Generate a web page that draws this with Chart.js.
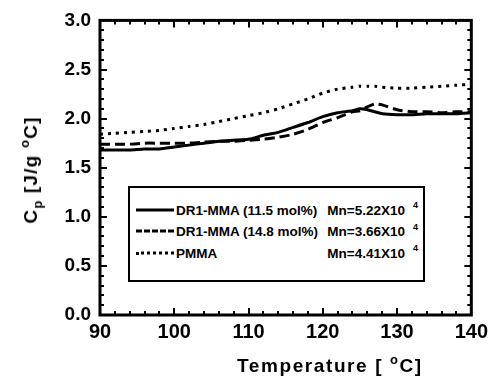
<!doctype html>
<html lang="en">
<head>
<meta charset="UTF-8" />
<title>Heat capacity of DR1-MMA copolymers and PMMA</title>
<script src="https://cdn.jsdelivr.net/npm/chart.js@4"></script>
<style>
  html, body { margin: 0; padding: 0; background: #fff; }
  body {
    width: 493px; height: 381px; position: relative; overflow: hidden;
    font-family: "Liberation Sans", Arial, sans-serif; color: #000;
  }
  #cpChart { position: absolute; left: 0; top: 0; }
  .axis-title { position: absolute; font-weight: bold; font-size: 19px; white-space: nowrap; line-height: 1; }
  .axis-title sup { font-size: 13px; vertical-align: 8px; }
  .axis-title sub { font-size: 13px; vertical-align: -5px; }
  #xTitle { left: 237px; top: 353px; letter-spacing: 1.6px; }
  #yTitle { left: 31px; top: 170px; letter-spacing: 1.2px; transform: translate(-50%, -50%) rotate(-90deg); }
  #legend {
    position: absolute; left: 128px; top: 186px; width: 293px; height: 81px;
    border: 2px solid #000; background: #fff; padding-top: 11px; box-sizing: content-box;
  }
  .row { position: relative; height: 21.5px; font-size: 13.5px; font-weight: bold; }
  .row span { position: absolute; top: 50%; transform: translateY(-50%); white-space: nowrap; }
  .row .sample { left: 6px; width: 38px; height: 0; border-top-width: 3px; border-top-color: #000; }
  .row .name { left: 46px; }
  .row .mn { right: 18px; }
  .row .exp { right: 5px; font-size: 9px; top: 30%; }
</style>
</head>
<body>
<canvas id="cpChart" width="493" height="381"></canvas>
<div id="yTitle" class="axis-title">C<sub>p</sub> [J/g <sup>o</sup>C]</div>
<div id="xTitle" class="axis-title">Temperature [ <sup>o</sup>C]</div>
<div id="legend"></div>

<script>
// temperature grid (°C) shared by all three curves
const temps = [90, 92, 94, 96, 98, 100, 102, 104, 106, 108, 110, 112, 114, 116, 118,
  120, 122, 124, 125, 126, 127, 128, 130, 132, 134, 136, 138, 140];

// Cp [J/g °C]
const cpDr115 = [1.68, 1.68, 1.68, 1.69, 1.69, 1.71, 1.73, 1.75, 1.77, 1.78, 1.79, 1.83, 1.86, 1.91, 1.96,
  2.02, 2.06, 2.08, 2.10, 2.09, 2.07, 2.05, 2.04, 2.04, 2.05, 2.05, 2.05, 2.06];
const cpDr148 = [1.74, 1.74, 1.74, 1.75, 1.75, 1.75, 1.75, 1.76, 1.77, 1.77, 1.78, 1.79, 1.81, 1.84, 1.89,
  1.96, 2.01, 2.07, 2.08, 2.12, 2.15, 2.14, 2.09, 2.07, 2.07, 2.06, 2.07, 2.07];
const cpPmma = [1.84, 1.85, 1.86, 1.87, 1.88, 1.90, 1.92, 1.94, 1.97, 2.00, 2.03, 2.06, 2.10, 2.15, 2.20,
  2.26, 2.30, 2.32, 2.33, 2.33, 2.33, 2.32, 2.31, 2.31, 2.32, 2.33, 2.34, 2.35];

const seriesNames = ['DR1-MMA (11.5 mol%)', 'DR1-MMA (14.8 mol%)', 'PMMA'];
const seriesMn = ['Mn=5.22X10', 'Mn=3.66X10', 'Mn=4.41X10'];
const mnExponent = '4';

// axis ticks
const xMajorTicks = [90, 100, 110, 120, 130, 140];
const yMajorTicks = [0, 0.5, 1.0, 1.5, 2.0, 2.5, 3.0];
const X_MINOR = 2;
const Y_MINOR = 0.1;

const lineStyles = [
  { dash: [], css: 'solid' },
  { dash: [10, 5], css: 'dashed' },
  { dash: [3, 5], css: 'dotted' }
];

const toPoints = (vals) => vals.map((v, i) => ({ x: temps[i], y: v }));

function tick(ctx, x0, y0, x1, y1) {
  ctx.beginPath();
  ctx.moveTo(x0, y0);
  ctx.lineTo(x1, y1);
  ctx.stroke();
}

// heavy frame plus inward ticks on all four sides
const frameTicks = {
  id: 'frameTicks',
  afterDraw(chart) {
    const { ctx, chartArea: a, scales: { x, y } } = chart;
    ctx.save();
    ctx.setLineDash([]);
    ctx.strokeStyle = '#000';
    ctx.lineWidth = 3;
    ctx.strokeRect(a.left, a.top, a.right - a.left, a.bottom - a.top);

    ctx.lineWidth = 2;
    const nx = Math.round((x.max - x.min) / X_MINOR);
    for (let i = 0; i <= nx; i++) {
      const v = x.min + i * X_MINOR;
      const px = Math.round(x.getPixelForValue(v));
      const len = xMajorTicks.includes(v) ? 7 : 4;
      tick(ctx, px, a.bottom, px, a.bottom - len);
      tick(ctx, px, a.top, px, a.top + len);
    }
    const ny = Math.round((y.max - y.min) / Y_MINOR);
    for (let i = 0; i <= ny; i++) {
      const v = +(y.min + i * Y_MINOR).toFixed(2);
      const py = Math.round(y.getPixelForValue(v));
      const len = yMajorTicks.includes(v) ? 7 : 4;
      tick(ctx, a.left, py, a.left + len, py);
      tick(ctx, a.right, py, a.right - len, py);
    }
    ctx.restore();
  }
};

const data = [cpDr115, cpDr148, cpPmma];

new Chart(document.getElementById('cpChart'), {
  type: 'line',
  data: {
    datasets: data.map((vals, i) => ({
      label: seriesNames[i],
      data: toPoints(vals),
      borderColor: '#000',
      borderWidth: 3,
      borderDash: lineStyles[i].dash,
      pointRadius: 0,
      tension: 0.2,
      fill: false
    }))
  },
  options: {
    responsive: false,
    animation: false,
    layout: { padding: { top: 20, right: 18, left: 0, bottom: 0 } },
    plugins: { legend: { display: false }, tooltip: { enabled: false } },
    scales: {
      x: {
        type: 'linear', min: 90, max: 140,
        afterBuildTicks: (s) => { s.ticks = xMajorTicks.map((v) => ({ value: v })); },
        afterFit: (s) => { s.height = 66; },
        grid: { display: false, drawTicks: false },
        border: { display: false },
        ticks: {
          color: '#000', padding: 5,
          font: { family: 'Liberation Sans', size: 20, weight: 'bold' },
          callback: (v) => String(v)
        }
      },
      y: {
        type: 'linear', min: 0, max: 3,
        afterBuildTicks: (s) => { s.ticks = yMajorTicks.map((v) => ({ value: v })); },
        afterFit: (s) => { s.width = 100; },
        grid: { display: false, drawTicks: false },
        border: { display: false },
        ticks: {
          color: '#000', padding: 9,
          font: { family: 'Liberation Sans', size: 19, weight: 'bold' },
          callback: (v) => Number(v).toFixed(1)
        }
      }
    }
  },
  plugins: [frameTicks]
});

// boxed legend with line samples and molecular weights
const legend = document.getElementById('legend');
seriesNames.forEach((name, i) => {
  const row = document.createElement('div');
  row.className = 'row';
  row.innerHTML =
    `<span class="sample" style="border-top-style:${lineStyles[i].css}"></span>` +
    `<span class="name">${name}</span>` +
    `<span class="mn">${seriesMn[i]}</span>` +
    `<span class="exp">${mnExponent}</span>`;
  legend.appendChild(row);
});
</script>
</body>
</html>
